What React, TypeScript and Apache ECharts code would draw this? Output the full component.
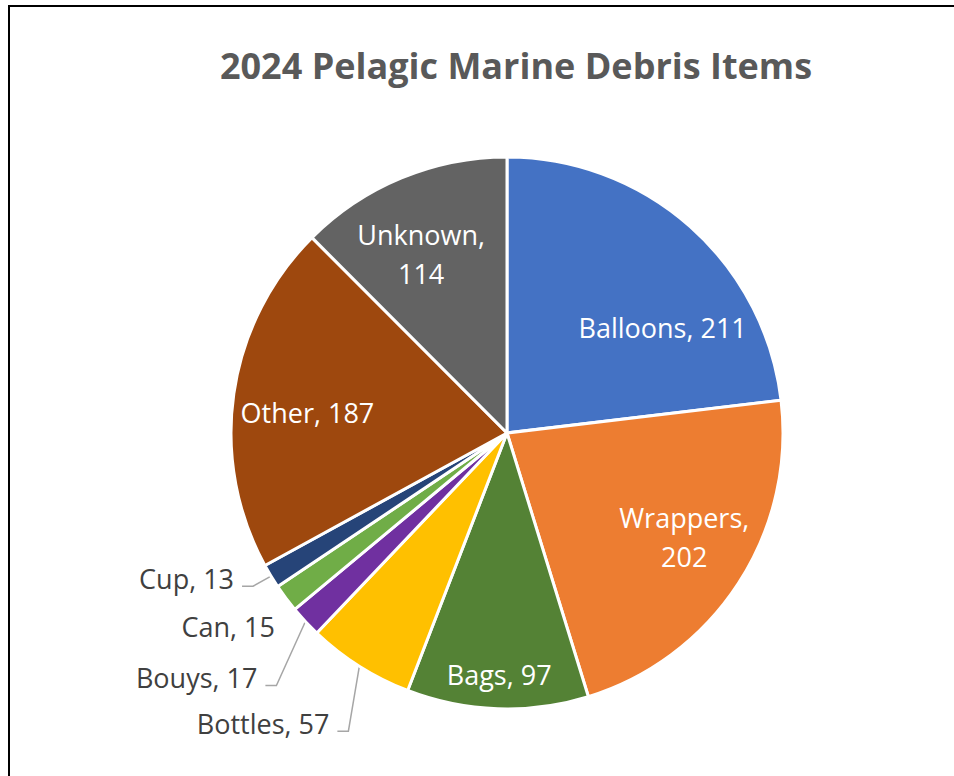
import React, { useEffect, useRef } from "react";
import * as echarts from "echarts";

const titleText = "2024 Pelagic Marine Debris Items";
const categories = ["Balloons", "Wrappers", "Bags", "Bottles", "Bouys", "Can", "Cup", "Other", "Unknown"];
const values = [211, 202, 97, 57, 17, 15, 13, 187, 114];
const colors = ["#4472C4", "#ED7D31", "#548235", "#FFC000", "#7030A0", "#70AD47", "#264478", "#9E480E", "#636363"];
const wrappedLabels = ["Wrappers", "Unknown"];
const outsideLabels = ["Bottles", "Bouys", "Can", "Cup"];
const noLeaderLabels = ["Can"];

// label nudges (layout only)
const insideShift: Record<string, [number, number]> = {
  Balloons: [62, 0],
  Wrappers: [59, 27],
  Bags: [-3, 101],
  Other: [-60, 0],
  Unknown: [-32, -49],
};
const outsideShift: Record<string, [number, number]> = {
  Cup: [-37, 2],
  Can: [-11, 28],
  Bouys: [-48, 56],
  Bottles: [-30, 57],
};

const FONT = "'Open Sans', 'Noto Sans', sans-serif";

export default function App() {
  const ref = useRef<HTMLDivElement>(null);
  useEffect(() => {
    if (!ref.current) return;
    const chart = echarts.init(ref.current, undefined, { renderer: "svg" });
    const data = categories.map((name, i) => {
      const isOut = outsideLabels.includes(name);
      return {
        name,
        value: values[i],
        itemStyle: { color: colors[i] },
        label: isOut
          ? { position: "outside", color: "#404040", align: "right" }
          : { position: "inside", color: "#FFFFFF" },
        labelLine: isOut
          ? {
              show: true,
              lineStyle: {
                color: "#A6A6A6",
                width: 1.5,
                opacity: noLeaderLabels.includes(name) ? 0 : 1,
              },
            }
          : { show: false },
      };
    });
    chart.setOption({
      animation: false,
      backgroundColor: "#FFFFFF",
      title: {
        text: titleText,
        left: 511,
        top: 42,
        textAlign: "center",
        textStyle: { fontFamily: FONT, fontWeight: "bold", fontSize: 36, color: "#595959" },
      },
      graphic: [
        {
          type: "rect",
          silent: true,
          z: 100,
          shape: { x: 9, y: 6, width: 1200, height: 1200 },
          style: { fill: "none", stroke: "#000000", lineWidth: 2 },
        },
      ],
      series: [
        {
          type: "pie",
          center: [507, 433],
          radius: 276,
          startAngle: 90,
          clockwise: true,
          avoidLabelOverlap: false,
          minShowLabelAngle: 0,
          itemStyle: { borderColor: "#FFFFFF", borderWidth: 3 },
          label: {
            show: true,
            fontFamily: FONT,
            fontSize: 27,
            lineHeight: 39,
            formatter: (p: any) =>
              wrappedLabels.includes(p.name) ? `${p.name},\n${p.value}` : `${p.name}, ${p.value}`,
          },
          labelLine: { length: 10, length2: 10 },
          labelLayout: (p: any) => {
            const name = categories[p.dataIndex];
            if (outsideShift[name]) {
              const pts = p.labelLinePoints;
              const anchor = pts && pts[0] ? pts[0] : [0, 0];
              const [ox, oy] = outsideShift[name];
              const lx = anchor[0] + ox;
              const ly = anchor[1] + oy;
              return {
                x: lx,
                y: ly,
                align: "right",
                verticalAlign: "middle",
                labelLinePoints: [
                  [anchor[0], anchor[1]],
                  [lx + 19, ly + 8],
                  [lx + 8, ly + 8],
                ],
              };
            }
            const s = insideShift[name] || [0, 0];
            return { dx: s[0], dy: s[1] };
          },
          data,
        },
      ],
    });
    return () => chart.dispose();
  }, []);
  return (
    <div
      ref={ref}
      style={{ position: "fixed", left: 0, top: 0, width: 954, height: 776, background: "#fff" }}
    />
  );
}
